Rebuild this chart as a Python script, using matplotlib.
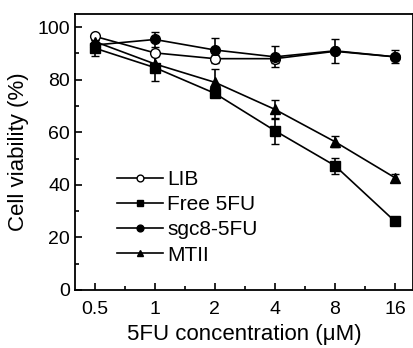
import numpy as np
import matplotlib.pyplot as plt
from matplotlib.ticker import MultipleLocator

plt.rcParams['font.family'] = ['Liberation Sans', 'DejaVu Sans']

conc_labels = ['0.5', '1', '2', '4', '8', '16']

lib = [96.5, 90.2, 88.0, 88.0, 90.8, 88.7]
lib_err = [1.0, 1.0, 1.5, 1.5, 1.0, 1.0]

free = [92.0, 84.6, 74.8, 60.6, 47.3, 26.1]
free_err = [3.0, 5.0, 1.0, 5.0, 3.0, 1.0]

sgc8 = [93.2, 95.3, 91.3, 88.7, 91.0, 88.7]
sgc8_err = [2.0, 3.0, 4.5, 4.0, 4.5, 2.5]

mtii = [94.5, 86.0, 79.0, 68.7, 56.4, 42.7]
mtii_err = [1.5, 3.0, 5.0, 3.5, 2.0, 1.5]

x = np.arange(len(conc_labels))

fig = plt.figure(figsize=(4.13, 3.48), dpi=100)
ax = fig.add_axes([0.1816, 0.1667, 0.8184, 0.7931])

series = [
    (lib, lib_err, 'o', 'white', 'LIB'),
    (free, free_err, 's', 'black', 'Free 5FU'),
    (sgc8, sgc8_err, 'o', 'black', 'sgc8-5FU'),
    (mtii, mtii_err, '^', 'black', 'MTII'),
]
for vals, errs, mk, fc, name in series:
    ax.errorbar(x, vals, yerr=errs, color='black', lw=1.2, marker=mk,
                markersize=7, markerfacecolor=fc, markeredgecolor='black',
                capsize=3, elinewidth=1.2, label=name)

ax.set_xlim(-0.33, 5.3)
ax.set_ylim(0, 105)
ax.set_xticks(x)
ax.set_xticklabels(conc_labels)
ax.xaxis.set_minor_locator(MultipleLocator(0.5))
ax.yaxis.set_major_locator(MultipleLocator(20))
ax.yaxis.set_minor_locator(MultipleLocator(10))
ax.tick_params(which='both', direction='in', labelsize=14, width=1.2)
ax.tick_params(which='major', length=5)
ax.tick_params(which='minor', length=3)
ax.tick_params(axis='x', pad=8)
for sp in ax.spines.values():
    sp.set_linewidth(1.3)

ax.set_xlabel('5FU concentration (\u03bcM)', fontsize=16, labelpad=4)
ax.set_ylabel('Cell viability (%)', fontsize=16, labelpad=6)

handles, labels = ax.get_legend_handles_labels()
handles = [h[0] for h in handles]
ax.legend(handles, labels, loc='upper left', bbox_to_anchor=(0.1, 0.465),
          frameon=False, fontsize=15, handlelength=2.2, labelspacing=0.3,
          handletextpad=0.2, markerscale=0.7, borderaxespad=0)

fig.savefig('out.png', dpi=100)
